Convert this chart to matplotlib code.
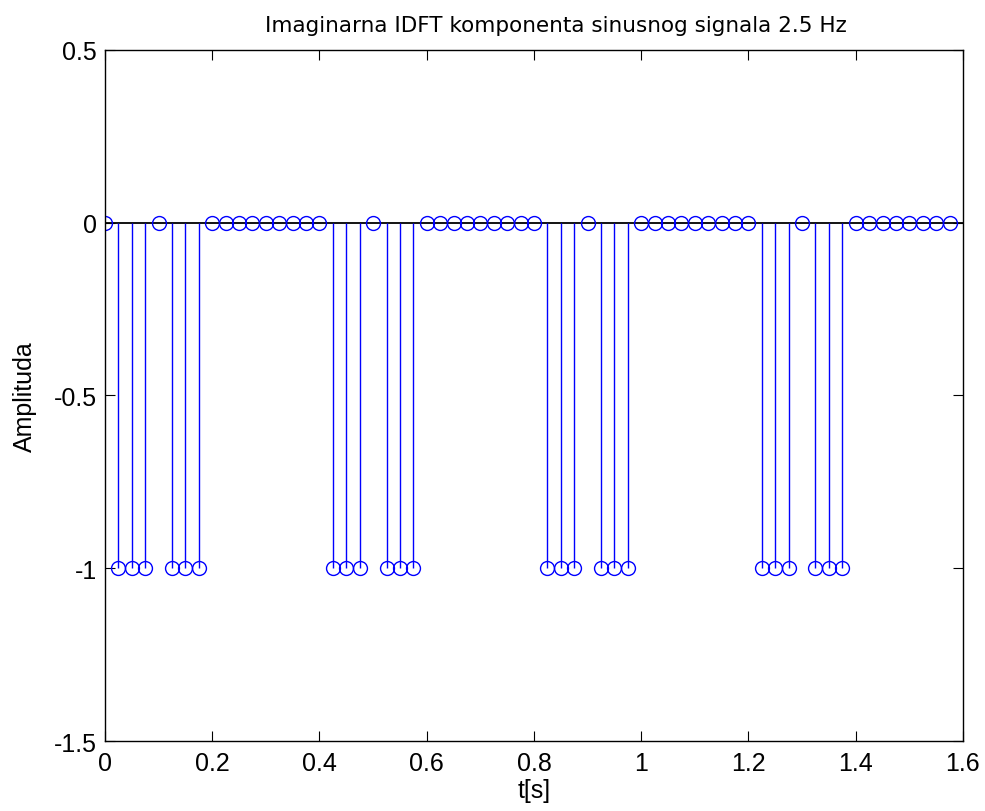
import matplotlib.pyplot as plt

# sample times (s), step 0.025
t = [0.000, 0.025, 0.050, 0.075, 0.100, 0.125, 0.150, 0.175,
     0.200, 0.225, 0.250, 0.275, 0.300, 0.325, 0.350, 0.375,
     0.400, 0.425, 0.450, 0.475, 0.500, 0.525, 0.550, 0.575,
     0.600, 0.625, 0.650, 0.675, 0.700, 0.725, 0.750, 0.775,
     0.800, 0.825, 0.850, 0.875, 0.900, 0.925, 0.950, 0.975,
     1.000, 1.025, 1.050, 1.075, 1.100, 1.125, 1.150, 1.175,
     1.200, 1.225, 1.250, 1.275, 1.300, 1.325, 1.350, 1.375,
     1.400, 1.425, 1.450, 1.475, 1.500, 1.525, 1.550, 1.575]

# imaginary part of the IDFT
amp = [0, -1, -1, -1, 0, -1, -1, -1, 0, 0, 0, 0, 0, 0, 0, 0,
       0, -1, -1, -1, 0, -1, -1, -1, 0, 0, 0, 0, 0, 0, 0, 0,
       0, -1, -1, -1, 0, -1, -1, -1, 0, 0, 0, 0, 0, 0, 0, 0,
       0, -1, -1, -1, 0, -1, -1, -1, 0, 0, 0, 0, 0, 0, 0, 0]

xticks = [0, 0.2, 0.4, 0.6, 0.8, 1, 1.2, 1.4, 1.6]
xlabels = ['0', '0.2', '0.4', '0.6', '0.8', '1', '1.2', '1.4', '1.6']
yticks = [-1.5, -1, -0.5, 0, 0.5]
ylabels = ['-1.5', '-1', '-0.5', '0', '0.5']

plt.rcParams['font.family'] = 'Liberation Sans'

fig = plt.figure(figsize=(9.85, 8.12), dpi=100)
ax = fig.add_axes([0.1066, 0.0862, 0.8710, 0.8510])

ax.axhline(0, color='k', linewidth=1.3, zorder=1)
markers, stems, base = ax.stem(t, amp, linefmt='b-', markerfmt='bo', basefmt=' ')
stems.set_linewidth(1.0)
markers.set_markerfacecolor('none')
markers.set_markersize(10)
markers.set_markeredgewidth(1.0)

ax.set_xlim(0, 1.6)
ax.set_ylim(-1.5, 0.5)
ax.set_xticks(xticks)
ax.set_xticklabels(xlabels)
ax.set_yticks(yticks)
ax.set_yticklabels(ylabels)
ax.tick_params(direction='in', top=True, right=True, length=7, labelsize=18)
ax.tick_params(axis='x', pad=7)
ax.tick_params(axis='y', pad=6)
for s in ax.spines.values():
    s.set_linewidth(1.0)

ax.set_title('Imaginarna IDFT komponenta sinusnog signala 2.5 Hz',
             fontsize=15.5, family='DejaVu Sans', x=0.526, pad=14)
ax.set_xlabel('t[s]', fontsize=18, labelpad=2)
ax.set_ylabel('Amplituda', fontsize=18, labelpad=12)

fig.savefig('out.png', dpi=100)
